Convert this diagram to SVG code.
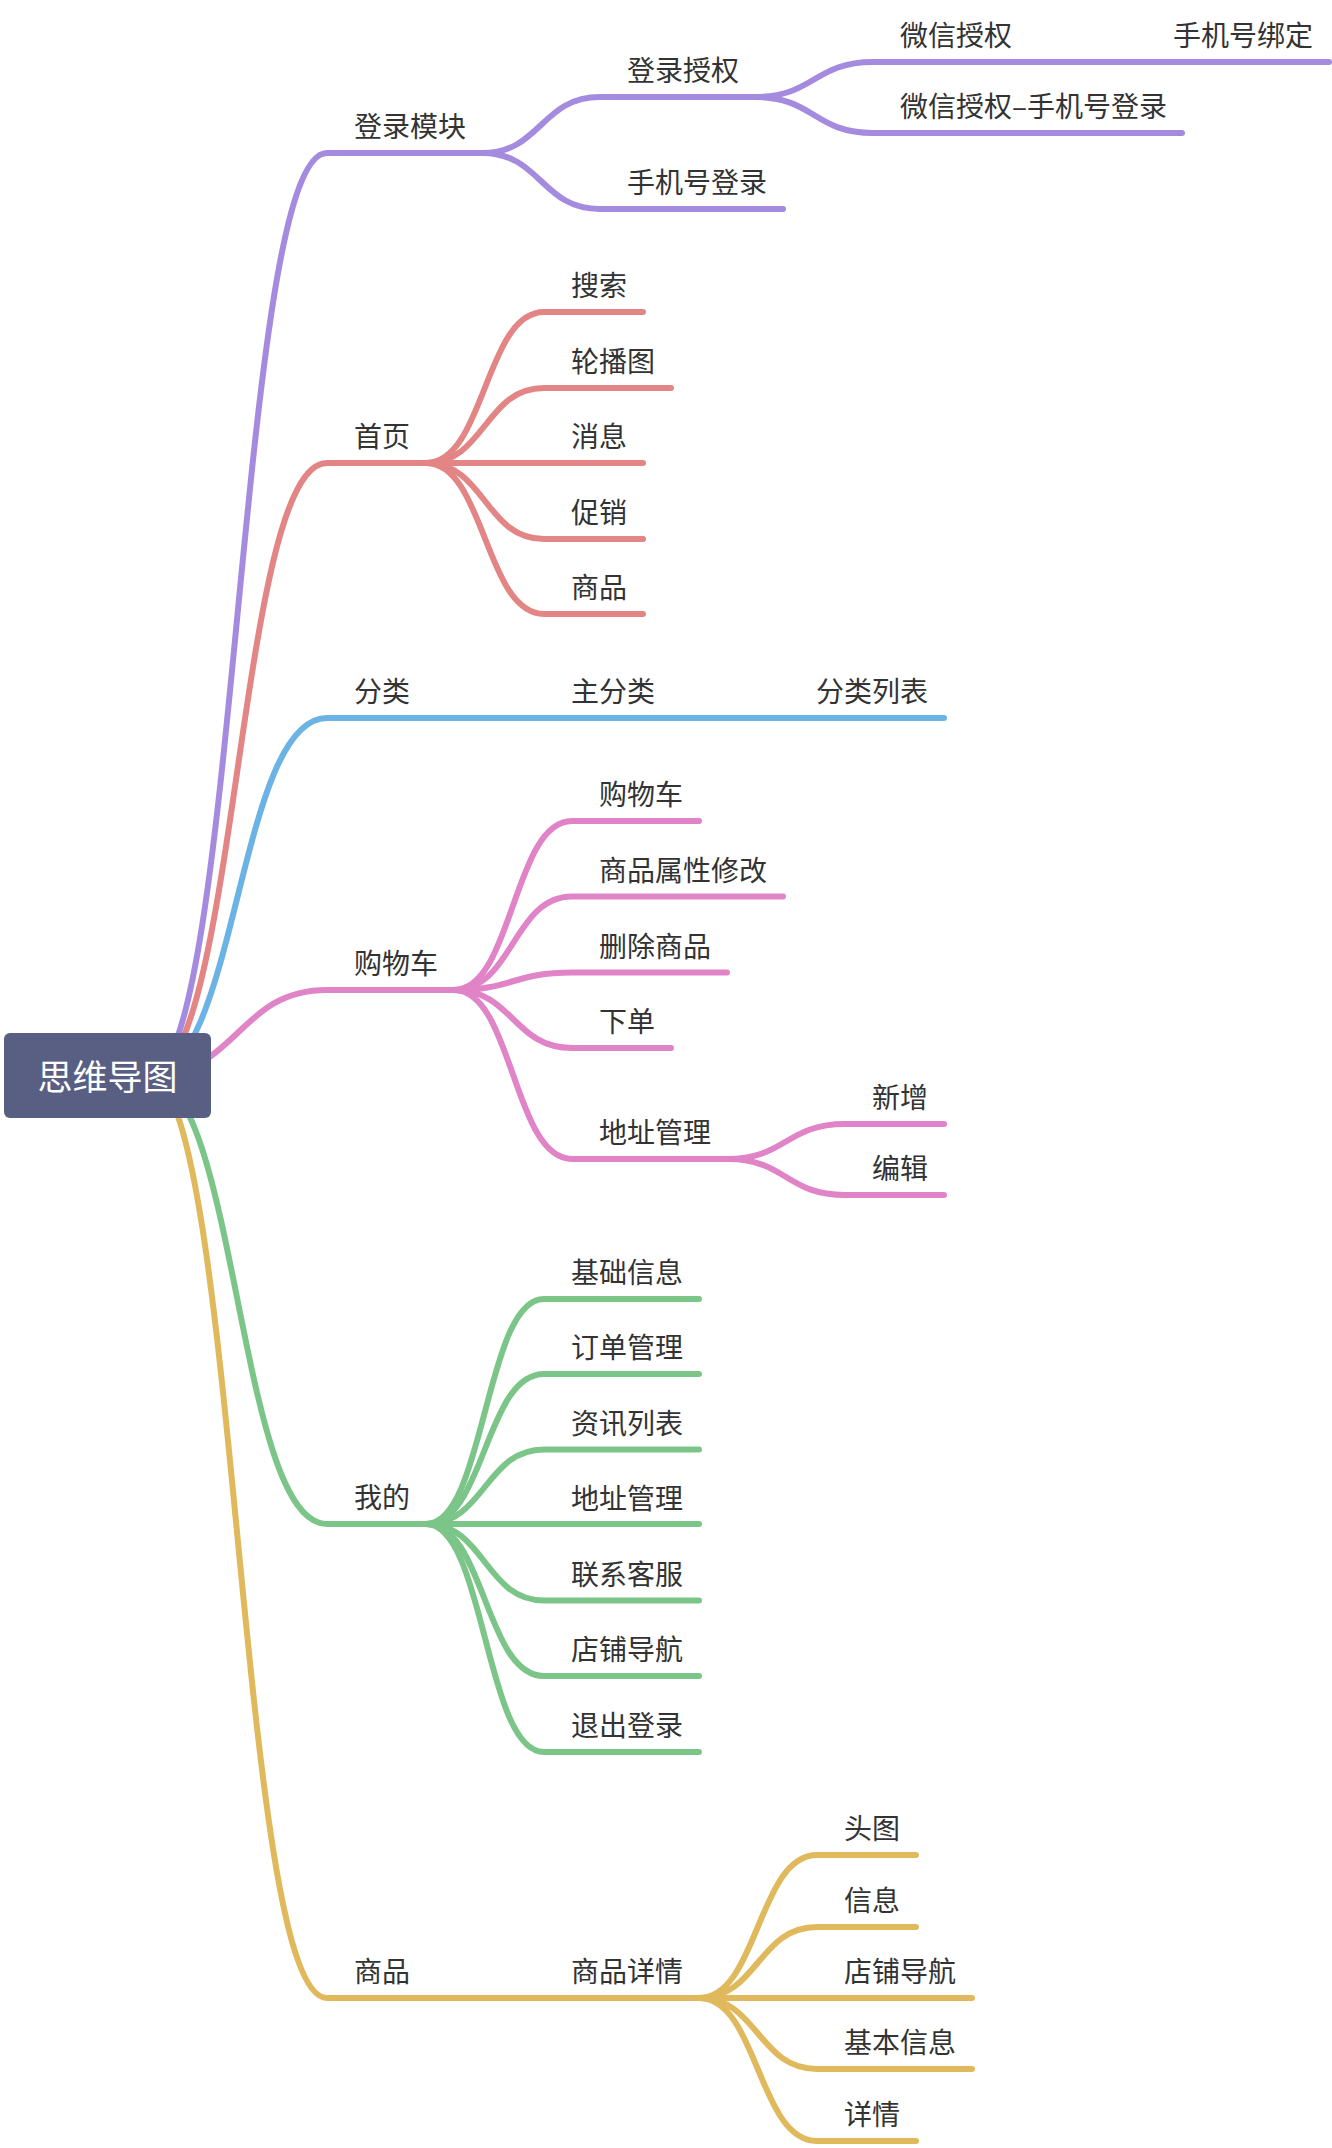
<svg xmlns="http://www.w3.org/2000/svg" width="1332" height="2148" viewBox="0 0 1332 2148">
<style>
.ln{fill:none;stroke-width:6;stroke-linecap:round;stroke-linejoin:round}
.pu{stroke:#a58be0}.rd{stroke:#e38585}.bl{stroke:#6bb2e5}.pk{stroke:#e083c7}.gr{stroke:#7cc589}.ye{stroke:#e0b95c}
text{font-family:"Noto Sans CJK SC","Noto Sans",sans-serif;font-size:28px;fill:#333}
.rt{font-size:35px;fill:#ffffff;text-anchor:middle}
</style>
<rect width="1332" height="2148" fill="#ffffff"/>
<g id="connectors">
<path class="ln pu" d="M148,1076 C237.5,1076 237.5,153 327,153 H482"/>
<path class="ln rd" d="M148,1076 C237.5,1076 237.5,463 327,463 H426"/>
<path class="ln bl" d="M148,1076 C237.5,1076 237.5,718 327,718 H944"/>
<path class="ln pk" d="M148,1076 C237.5,1076 237.5,990 327,990 H454"/>
<path class="ln gr" d="M148,1076 C237.5,1076 237.5,1524 327,1524 H426"/>
<path class="ln ye" d="M148,1076 C237.5,1076 237.5,1998 327,1998 H699"/>
<path class="ln pu" d="M482,153 C541,153 541,97 600,97 H755"/>
<path class="ln pu" d="M482,153 C541,153 541,209 600,209 H783"/>
<path class="ln pu" d="M755,97 C814,97 814,62 873,62 H1329"/>
<path class="ln pu" d="M755,97 C814,97 814,133 873,133 H1182"/>
<path class="ln rd" d="M426,463 C485,463 485,312 544,312 H643"/>
<path class="ln rd" d="M426,463 C485,463 485,388 544,388 H671"/>
<path class="ln rd" d="M426,463 H643"/>
<path class="ln rd" d="M426,463 C485,463 485,539 544,539 H643"/>
<path class="ln rd" d="M426,463 C485,463 485,614 544,614 H643"/>
<path class="ln pk" d="M454,990 C513,990 513,821 572,821 H699"/>
<path class="ln pk" d="M454,990 C513,990 513,896.5 572,896.5 H783"/>
<path class="ln pk" d="M454,990 C513,990 513,972.5 572,972.5 H727"/>
<path class="ln pk" d="M454,990 C513,990 513,1048 572,1048 H671"/>
<path class="ln pk" d="M454,990 C513,990 513,1159 572,1159 H727"/>
<path class="ln pk" d="M727,1159 C786,1159 786,1124 845,1124 H944"/>
<path class="ln pk" d="M727,1159 C786,1159 786,1195 845,1195 H944"/>
<path class="ln gr" d="M426,1524 C485,1524 485,1299 544,1299 H699"/>
<path class="ln gr" d="M426,1524 C485,1524 485,1374 544,1374 H699"/>
<path class="ln gr" d="M426,1524 C485,1524 485,1449.5 544,1449.5 H699"/>
<path class="ln gr" d="M426,1524 H699"/>
<path class="ln gr" d="M426,1524 C485,1524 485,1600.5 544,1600.5 H699"/>
<path class="ln gr" d="M426,1524 C485,1524 485,1676 544,1676 H699"/>
<path class="ln gr" d="M426,1524 C485,1524 485,1752 544,1752 H699"/>
<path class="ln ye" d="M699,1998 C758,1998 758,1855 817,1855 H916"/>
<path class="ln ye" d="M699,1998 C758,1998 758,1927 817,1927 H916"/>
<path class="ln ye" d="M699,1998 H972"/>
<path class="ln ye" d="M699,1998 C758,1998 758,2069 817,2069 H972"/>
<path class="ln ye" d="M699,1998 C758,1998 758,2141 817,2141 H916"/>
</g>
<g id="root"><rect x="4" y="1033" width="207" height="85" rx="6" fill="#585f83"/><text class="rt" x="107.5" y="1090">思维导图</text></g>
<g id="n-login"><text x="354" y="137">登录模块</text></g>
<g id="n-login-auth"><text x="627" y="81">登录授权</text></g>
<g id="n-login-phone"><text x="627" y="193">手机号登录</text></g>
<g id="n-wx-auth"><text x="900" y="46">微信授权</text></g>
<g id="n-phone-bind"><text x="1173" y="46">手机号绑定</text></g>
<g id="n-wx-phone"><text x="900" y="117">微信授权–手机号登录</text></g>
<g id="n-home"><text x="354" y="447">首页</text></g>
<g id="n-search"><text x="571" y="296">搜索</text></g>
<g id="n-banner"><text x="571" y="372">轮播图</text></g>
<g id="n-msg"><text x="571" y="447">消息</text></g>
<g id="n-promo"><text x="571" y="523">促销</text></g>
<g id="n-home-goods"><text x="571" y="598">商品</text></g>
<g id="n-cat"><text x="354" y="702">分类</text></g>
<g id="n-maincat"><text x="571" y="702">主分类</text></g>
<g id="n-catlist"><text x="816" y="702">分类列表</text></g>
<g id="n-cart"><text x="354" y="974">购物车</text></g>
<g id="n-cart-1"><text x="599" y="805">购物车</text></g>
<g id="n-cart-attr"><text x="599" y="880.5">商品属性修改</text></g>
<g id="n-cart-del"><text x="599" y="956.5">删除商品</text></g>
<g id="n-cart-order"><text x="599" y="1032">下单</text></g>
<g id="n-cart-addr"><text x="599" y="1143">地址管理</text></g>
<g id="n-addr-add"><text x="872" y="1108">新增</text></g>
<g id="n-addr-edit"><text x="872" y="1179">编辑</text></g>
<g id="n-mine"><text x="354" y="1508">我的</text></g>
<g id="n-mine-1"><text x="571" y="1283">基础信息</text></g>
<g id="n-mine-2"><text x="571" y="1358">订单管理</text></g>
<g id="n-mine-3"><text x="571" y="1433.5">资讯列表</text></g>
<g id="n-mine-4"><text x="571" y="1508.5">地址管理</text></g>
<g id="n-mine-5"><text x="571" y="1584.5">联系客服</text></g>
<g id="n-mine-6"><text x="571" y="1660">店铺导航</text></g>
<g id="n-mine-7"><text x="571" y="1736">退出登录</text></g>
<g id="n-goods"><text x="354" y="1982">商品</text></g>
<g id="n-goods-detail"><text x="571" y="1982">商品详情</text></g>
<g id="n-gd-1"><text x="844" y="1839">头图</text></g>
<g id="n-gd-2"><text x="844" y="1911">信息</text></g>
<g id="n-gd-3"><text x="844" y="1982">店铺导航</text></g>
<g id="n-gd-4"><text x="844" y="2053">基本信息</text></g>
<g id="n-gd-5"><text x="844" y="2125">详情</text></g>
</svg>
